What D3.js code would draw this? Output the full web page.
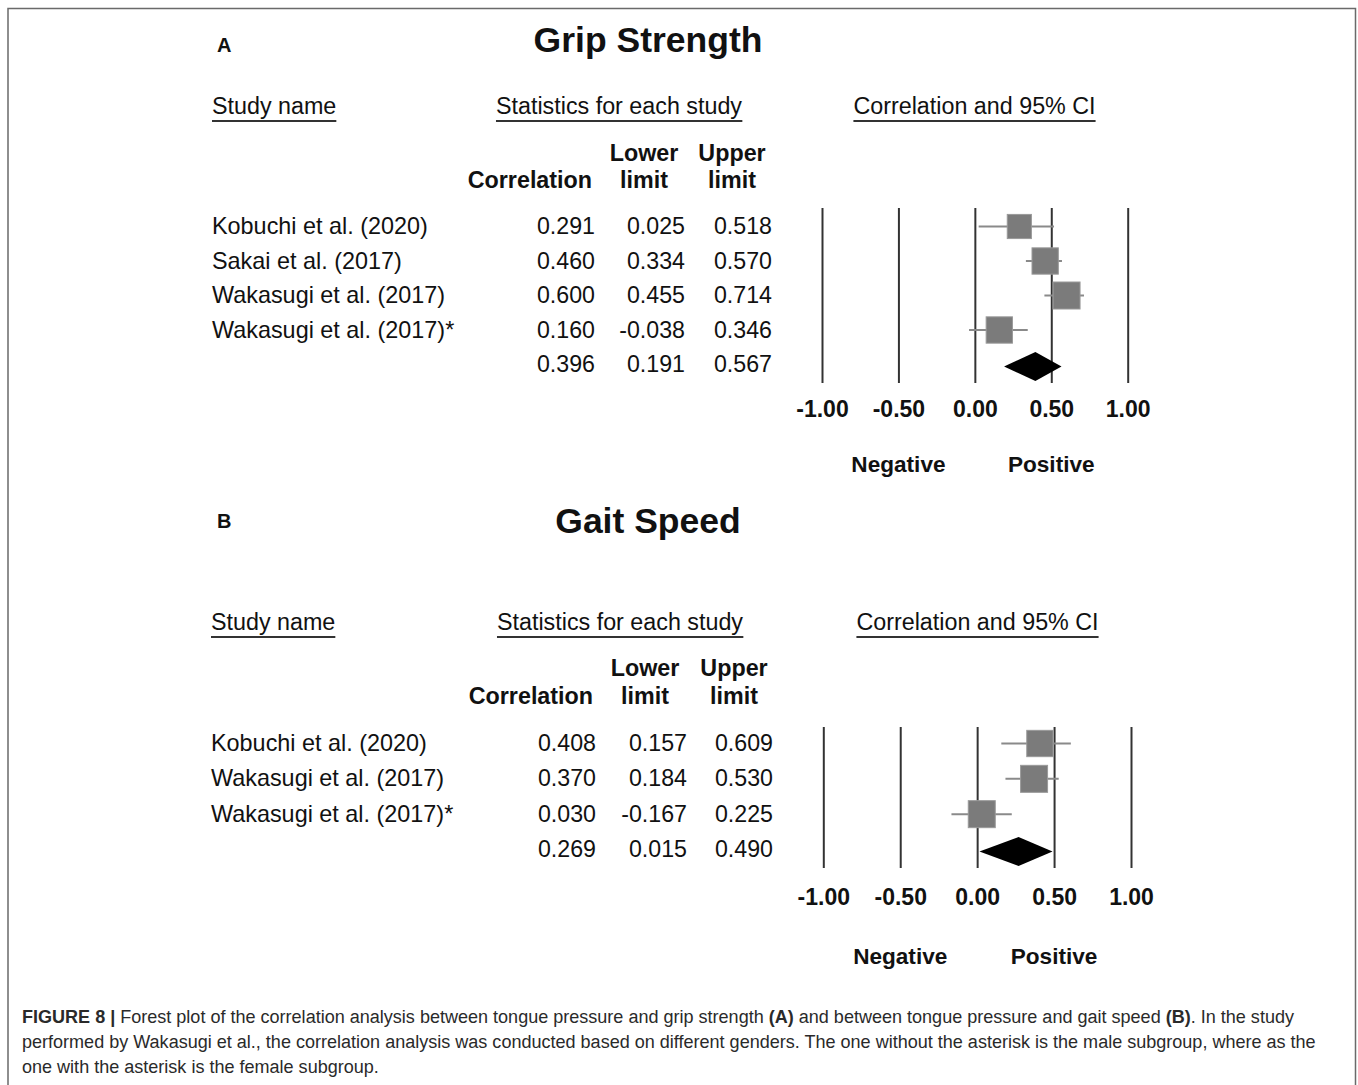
<!DOCTYPE html>
<html>
<head>
<meta charset="utf-8">
<script src="https://cdn.jsdelivr.net/npm/d3@7"></script>
<style>
  html, body { margin: 0; padding: 0; background: #fff; }
  svg { display: block; font-family: "Liberation Sans", Arial, sans-serif; }
</style>
</head>
<body>
<svg id="chart" width="1358" height="1085"></svg>
<script>
// ---------------- DATA ----------------
const studiesA = ["Kobuchi et al. (2020)", "Sakai et al. (2017)", "Wakasugi et al. (2017)", "Wakasugi et al. (2017)*"];
const corrA  = [0.291, 0.460, 0.600, 0.160];
const lowerA = [0.025, 0.334, 0.455, -0.038];
const upperA = [0.518, 0.570, 0.714, 0.346];
const weightA = [0.80, 0.95, 1.0, 0.95];
const summaryA = [0.396, 0.191, 0.567];

const studiesB = ["Kobuchi et al. (2020)", "Wakasugi et al. (2017)", "Wakasugi et al. (2017)*"];
const corrB  = [0.408, 0.370, 0.030];
const lowerB = [0.157, 0.184, -0.167];
const upperB = [0.609, 0.530, 0.225];
const weightB = [0.95, 1.0, 1.0];
const summaryB = [0.269, 0.015, 0.490];

const tickValues = [-1.00, -0.50, 0.00, 0.50, 1.00];
const titles = ["Grip Strength", "Gait Speed"];
const panelLetters = ["A", "B"];
const sideLabels = ["Negative", "Positive"];

// ---------------- FORMATS ----------------
const loc = d3.formatLocale({decimal: ".", thousands: ",", grouping: [3], currency: ["", ""], minus: "-"});
const f3 = loc.format(".3f");
const f2 = loc.format(".2f");

const svg = d3.select("#chart");

// frame
svg.append("path")
  .attr("d", "M8,1090 L8,8.5 L1355.5,8.5 L1355.5,1090")
  .attr("fill", "none").attr("stroke", "#6a6a6a").attr("stroke-width", 1.5);

function drawPanel(cfg) {
  const g = svg.append("g");
  const n = cfg.studies.length;

  // letter + title
  g.append("text").attr("x", cfg.letterX).attr("y", cfg.letterY)
    .attr("font-size", 20).attr("font-weight", "bold").attr("fill", "#111").text(cfg.letter);
  g.append("text").attr("x", 648).attr("y", cfg.titleY)
    .attr("text-anchor", "middle").attr("font-size", 35.5).attr("font-weight", "bold").attr("fill", "#111").text(cfg.title);

  // underlined headers
  const heads = [
    {t: "Study name", x: cfg.nameX, anchor: "start"},
    {t: "Statistics for each study", x: cfg.statsX, anchor: "middle"},
    {t: "Correlation and 95% CI", x: cfg.ciX, anchor: "middle"}
  ];
  heads.forEach(h => {
    const t = g.append("text").attr("x", h.x).attr("y", cfg.headY)
      .attr("text-anchor", h.anchor).attr("font-size", 23.3).attr("fill", "#111").text(h.t);
    const bb = t.node().getBBox();
    g.append("line").attr("x1", bb.x).attr("x2", bb.x + bb.width)
      .attr("y1", cfg.headY + 7).attr("y2", cfg.headY + 7)
      .attr("stroke", "#333").attr("stroke-width", 2);
  });

  // column headers
  const colHead = [
    {lines: ["Correlation"], x: cfg.colCorr, anchor: "end"},
    {lines: ["Lower", "limit"], x: cfg.colLowC, anchor: "middle"},
    {lines: ["Upper", "limit"], x: cfg.colUpC, anchor: "middle"}
  ];
  colHead.forEach(c => {
    const yy = c.lines.length === 1 ? [cfg.colHeadY2] : [cfg.colHeadY1, cfg.colHeadY2];
    c.lines.forEach((l, i) => {
      g.append("text").attr("x", c.x).attr("y", yy[i]).attr("text-anchor", c.anchor)
        .attr("font-size", 23.3).attr("font-weight", "bold").attr("fill", "#111").text(l);
    });
  });

  // scales
  const x = d3.scaleLinear().domain([-1, 1]).range(cfg.xRange);
  const y = d3.scaleLinear().domain([0, n]).range([cfg.rowTop, cfg.rowBottom]);
  const sz = d3.scaleSqrt().domain([0, 1]).range([0, 27]);

  // axis with full-height gridlines
  const axis = d3.axisBottom(x).tickValues(tickValues).tickFormat(f2)
    .tickSize(-(cfg.lineBottom - cfg.lineTop)).tickPadding(cfg.tickPad);
  const ax = g.append("g").attr("transform", `translate(0,${cfg.lineBottom})`).call(axis);
  ax.select(".domain").remove();
  ax.selectAll(".tick line").attr("stroke", "#333").attr("stroke-width", 2);
  ax.selectAll(".tick text").attr("font-size", 23).attr("font-weight", "bold").attr("fill", "#111")
    .attr("font-family", "'Liberation Sans', Arial, sans-serif");

  // side labels
  [-0.5, 0.5].forEach((v, i) => {
    g.append("text").attr("x", x(v)).attr("y", cfg.sideY).attr("text-anchor", "middle")
      .attr("font-size", 22.6).attr("font-weight", "bold").attr("fill", "#111").text(sideLabels[i]);
  });

  // rows text
  const rows = cfg.studies.map((s, i) => ({name: s, r: cfg.corr[i], lo: cfg.lower[i], hi: cfg.upper[i], w: cfg.weight[i], i}));
  const summ = {name: "", r: cfg.summary[0], lo: cfg.summary[1], hi: cfg.summary[2], i: n};

  [...rows, summ].forEach(d => {
    const ty = y(d.i) + 8;
    if (d.name) g.append("text").attr("x", cfg.nameX).attr("y", ty).attr("font-size", 23.4).attr("fill", "#111").text(d.name);
    g.append("text").attr("x", cfg.valCorr).attr("y", ty).attr("text-anchor", "end").attr("font-size", 23.2).attr("fill", "#111").text(f3(d.r));
    g.append("text").attr("x", cfg.valLow).attr("y", ty).attr("text-anchor", "end").attr("font-size", 23.2).attr("fill", "#111").text(f3(d.lo));
    g.append("text").attr("x", cfg.valUp).attr("y", ty).attr("text-anchor", "end").attr("font-size", 23.2).attr("fill", "#111").text(f3(d.hi));
  });

  // CI lines
  g.selectAll(".ci").data(rows).join("line")
    .attr("x1", d => x(d.lo)).attr("x2", d => x(d.hi))
    .attr("y1", d => y(d.i) + cfg.markDy).attr("y2", d => y(d.i) + cfg.markDy)
    .attr("stroke", "#8a8a8a").attr("stroke-width", 2);
  // squares
  g.selectAll(".sq").data(rows).join("rect")
    .attr("x", d => x(d.r) - sz(d.w) / 2).attr("y", d => y(d.i) + cfg.markDy - sz(d.w) / 2)
    .attr("width", d => sz(d.w)).attr("height", d => sz(d.w))
    .attr("fill", "#7b7b7b").attr("stroke", "#9a9a9a").attr("stroke-width", 1);
  // diamond
  const dy = y(n) + cfg.markDy + 2, h = 14.5;
  g.append("path")
    .attr("d", `M${x(summ.lo)},${dy} L${x(summ.r)},${dy - h} L${x(summ.hi)},${dy} L${x(summ.r)},${dy + h} Z`)
    .attr("fill", "#000");
}

drawPanel({
  letter: panelLetters[0], title: titles[0], letterX: 217, letterY: 52, titleY: 52,
  studies: studiesA, corr: corrA, lower: lowerA, upper: upperA, weight: weightA, summary: summaryA,
  nameX: 212, statsX: 619, ciX: 974.5, headY: 114,
  colCorr: 592, colLowC: 644, colUpC: 732, colHeadY1: 161, colHeadY2: 188,
  valCorr: 595, valLow: 685, valUp: 772,
  xRange: [822, 1127.7], rowTop: 226, rowBottom: 364,
  lineTop: 208, lineBottom: 383, sideY: 472, markDy: 0.5, tickPad: 18
});

drawPanel({
  letter: panelLetters[1], title: titles[1], letterX: 217, letterY: 528, titleY: 533,
  studies: studiesB, corr: corrB, lower: lowerB, upper: upperB, weight: weightB, summary: summaryB,
  nameX: 211, statsX: 620, ciX: 977.5, headY: 630,
  colCorr: 593, colLowC: 645, colUpC: 734, colHeadY1: 676, colHeadY2: 704,
  valCorr: 596, valLow: 687, valUp: 773,
  xRange: [823.3, 1131], rowTop: 743, rowBottom: 849,
  lineTop: 727, lineBottom: 868, sideY: 964, markDy: 0.5, tickPad: 21
});

// caption
const cap = svg.append("g").attr("font-size", 18.05).attr("fill", "#2a2a2a");
const capLines = [
  [["FIGURE 8 |", true], [" Forest plot of the correlation analysis between tongue pressure and grip strength ", false], ["(A)", true], [" and between tongue pressure and gait speed ", false], ["(B)", true], [". In the study", false]],
  [["performed by Wakasugi et al., the correlation analysis was conducted based on different genders. The one without the asterisk is the male subgroup, where as the", false]],
  [["one with the asterisk is the female subgroup.", false]]
];
capLines.forEach((ln, i) => {
  const t = cap.append("text").attr("x", 22).attr("y", 1023 + i * 25).attr("xml:space", "preserve");
  ln.forEach(([s, b]) => t.append("tspan").attr("font-weight", b ? "bold" : "normal").text(s));
});
</script>
</body>
</html>
